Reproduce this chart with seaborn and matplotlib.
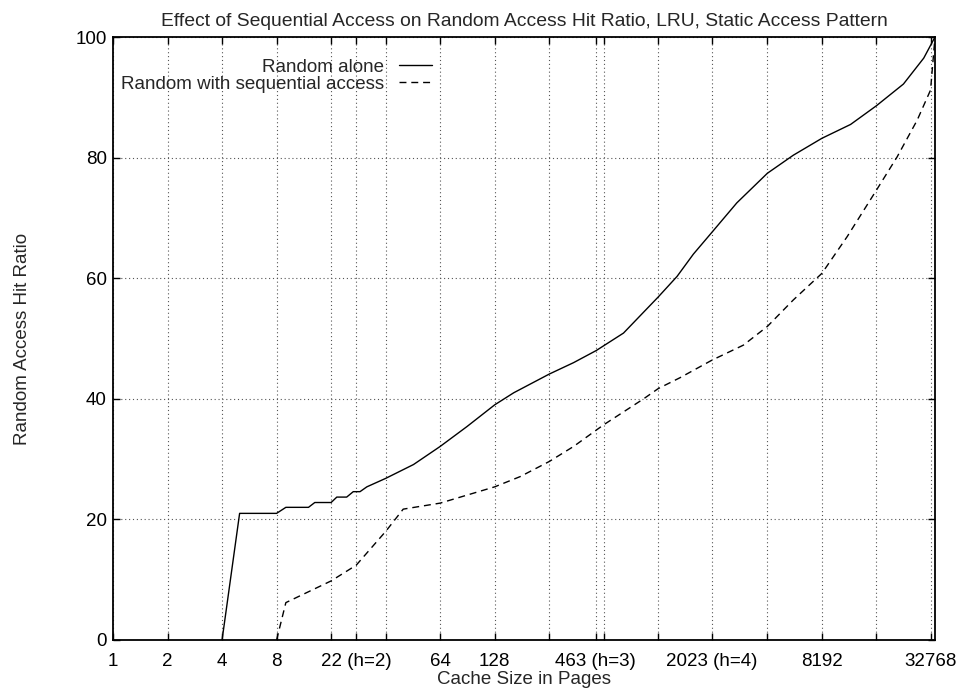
import numpy as np
import pandas as pd
import matplotlib
matplotlib.use("Agg")
import matplotlib.pyplot as plt
import seaborn as sns

# Hit ratio (%) of random accesses as the LRU cache grows (cache size in pages)
random_alone_x = [4, 5, 8, 9, 12, 13, 16, 17.2, 19.5, 21.2, 23.1, 25.2, 32, 45.6,
                  64, 90, 128, 163, 256, 349, 465, 658, 1024, 1300, 1600, 2023, 2780,
                  4096, 5700, 8192, 11800, 16384, 23100, 29900, 34500]
random_alone_y = [0, 21.0, 21.0, 22.0, 22.0, 22.8, 22.8, 23.7, 23.7, 24.6, 24.6, 25.4,
                  26.8, 29.1, 32.1, 35.4, 39.0, 41.0, 44.1, 46.0, 48.0, 50.9, 56.9,
                  60.3, 64.0, 67.6, 72.5, 77.4, 80.4, 83.2, 85.5, 88.6, 92.2, 96.5, 100]

with_seq_x = [8, 9, 16, 22, 32, 40, 64, 128, 177, 256, 349, 465, 512, 850, 1024,
              1350, 2023, 3020, 4096, 5700, 8192, 11300, 16384, 21300, 27500, 32600,
              34500]
with_seq_y = [0, 6.2, 9.8, 12.4, 18.0, 21.7, 22.7, 25.4, 27.1, 29.6, 32.1, 34.8, 35.7,
              40.0, 41.7, 43.5, 46.4, 48.9, 52.0, 56.4, 60.8, 66.9, 74.6, 80.1, 86.2,
              91.2, 100]

x_ticks = [1, 2, 4, 8, 16, 22, 32, 64, 128, 256, 463, 512, 1024, 2023, 4096, 8192,
           16384, 32768]
x_tick_labels = ["1", "2", "4", "8", "", "22 (h=2)", "", "64", "128", "", "463 (h=3)",
                 "", "", "2023 (h=4)", "", "8192", "", "32768"]
y_ticks = [0, 20, 40, 60, 80, 100]

series_names = ["Random alone", "Random with sequential access"]

df = pd.concat([
    pd.DataFrame({"pages": random_alone_x, "hit": random_alone_y, "series": series_names[0]}),
    pd.DataFrame({"pages": with_seq_x, "hit": with_seq_y, "series": series_names[1]}),
], ignore_index=True)

sns.set_theme(style="ticks")
plt.rcParams["font.family"] = ["Liberation Sans", "DejaVu Sans"]
FS = 13.5

fig = plt.figure(figsize=(9.61, 6.91), dpi=100)
ax = fig.add_axes([113 / 961, 51 / 691, (935 - 113) / 961, (640 - 37) / 691])

sns.lineplot(data=df[df.series == series_names[0]], x="pages", y="hit",
             color="black", lw=1.0, estimator=None, sort=False, ax=ax,
             label=series_names[0])
sns.lineplot(data=df[df.series == series_names[1]], x="pages", y="hit",
             color="black", lw=1.0, estimator=None, sort=False, ax=ax,
             linestyle=(0, (5, 3.5)), label=series_names[1])

ax.set_xscale("log", base=2)
ax.set_xlim(1, 34500)
ax.set_ylim(0, 100)
ax.set_xticks(x_ticks)
ax.set_xticklabels(x_tick_labels)
ax.minorticks_off()
ax.set_yticks(y_ticks)
ax.set_yticklabels([str(v) for v in y_ticks])

ax.grid(True, which="major", linestyle=(0, (1, 2.5)), color="#555555", lw=0.8)
ax.tick_params(axis="both", which="major", direction="in", length=5, width=1.0,
               top=True, right=True, labelsize=FS, colors="black")
ax.tick_params(axis="x", pad=9)
ax.tick_params(axis="y", pad=4.5)
for s in ax.spines.values():
    s.set_linewidth(1.3)
    s.set_color("black")

ax.set_xlabel("Cache Size in Pages", fontsize=FS, labelpad=1)
ax.set_ylabel("Random Access Hit Ratio", fontsize=FS, labelpad=32)
ax.set_title("Effect of Sequential Access on Random Access Hit Ratio, LRU, Static Access Pattern",
             fontsize=13.9, pad=8)

# key: labels on the left, right-aligned, line samples on the right
ax.legend(loc="upper right", bbox_to_anchor=((432 - 113) / 822, (640 - 58.5) / 603),
          frameon=False, markerfirst=False, fontsize=FS, handlelength=1.75,
          handletextpad=0.8, labelspacing=0.0, borderaxespad=0.0, borderpad=0.0)

fig.savefig("out.png", dpi=100)
